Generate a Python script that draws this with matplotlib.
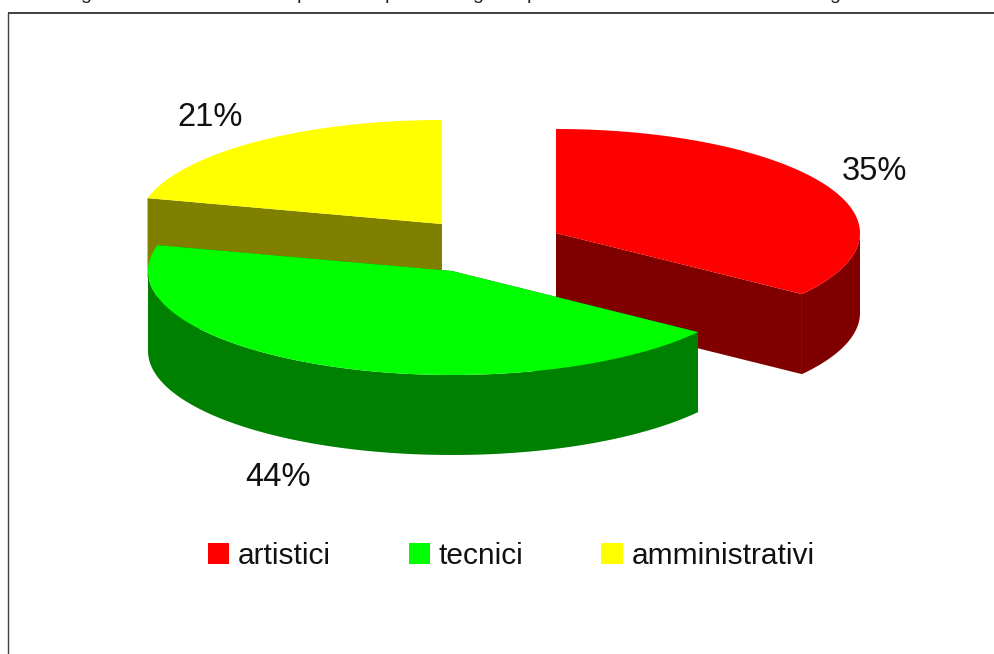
import numpy as np
import matplotlib
matplotlib.use("Agg")
import matplotlib.pyplot as plt
from matplotlib.patches import Patch

plt.rcParams['font.family'] = ['Liberation Sans', 'DejaVu Sans']

categories = ["artistici", "tecnici", "amministrativi"]
values = [35, 44, 21]
percent_labels = ["35%", "44%", "21%"]
top_colors = ["#ff0000", "#00ff00", "#ffff00"]
side_colors = ["#800000", "#008000", "#808000"]
centers = [(556, 233), (452, 271), (442, 224)]
label_pos = [(874, 172), (278, 477), (210.5, 118)]
clipped_glyphs = [("g", 86), ("p", 302), ("p", 390), ("g", 478), ("p", 532), ("g", 835)]

RX, RY, DEPTH = 304, 104, 80

fig = plt.figure(figsize=(9.95, 6.54), dpi=100, facecolor="white")
ax = fig.add_axes([0, 0, 1, 1])
ax.set_xlim(0, 995)
ax.set_ylim(654, 0)
ax.axis("off")

# page frame
ax.plot([8, 8], [654, 13], color="#404040", lw=1.0, solid_capstyle="butt")
ax.plot([8, 995], [13, 13], color="#404040", lw=1.4, solid_capstyle="butt")
for ch, x in clipped_glyphs:
    ax.text(x, -1.0, ch, fontsize=14, ha="center", va="baseline", color="#222222")

fractions = np.array(values) / sum(values)
ends = np.cumsum(fractions) * 2 * np.pi
starts = ends - fractions * 2 * np.pi


def arc(i, a0, a1):
    t = np.linspace(a0, a1, 200)
    cx, cy = centers[i]
    return cx + RX * np.sin(t), cy - RY * np.cos(t)


def draw_slice(i, z):
    a0, a1 = starts[i], ends[i]
    cx, cy = centers[i]
    # radial cut faces
    for a in (a0, a1):
        ex, ey = cx + RX * np.sin(a), cy - RY * np.cos(a)
        ax.fill([cx, ex, ex, cx], [cy, ey, ey + DEPTH, cy + DEPTH],
                color=side_colors[i], lw=0, zorder=z)
    # outer wall: only the part facing the viewer
    lo, hi = max(a0, np.pi / 2), min(a1, 3 * np.pi / 2)
    if hi > lo:
        x, y = arc(i, lo, hi)
        ax.fill(np.r_[x, x[::-1]], np.r_[y, y[::-1] + DEPTH],
                color=side_colors[i], lw=0, zorder=z)
    # top surface
    x, y = arc(i, a0, a1)
    ax.fill(np.r_[cx, x], np.r_[cy, y], color=top_colors[i], lw=0, zorder=z + 0.5)


draw_slice(2, 2)
draw_slice(0, 3)
draw_slice(1, 4)

for (x, y), s in zip(label_pos, percent_labels):
    ax.text(x, y, s, fontsize=23.5, ha="center", va="center", color="#111111", zorder=6)

handles = [Patch(facecolor=c, edgecolor="none", label=n) for c, n in zip(top_colors, categories)]
leg = ax.legend(handles=handles, ncol=3, frameon=False, fontsize=21.5,
                loc="center", bbox_to_anchor=(511 / 995, 1 - 556 / 654),
                handlelength=0.73, handleheight=0.73, handletextpad=0.27,
                columnspacing=2.62, borderpad=0, labelcolor="#111111")

fig.savefig("out.png", dpi=100)
